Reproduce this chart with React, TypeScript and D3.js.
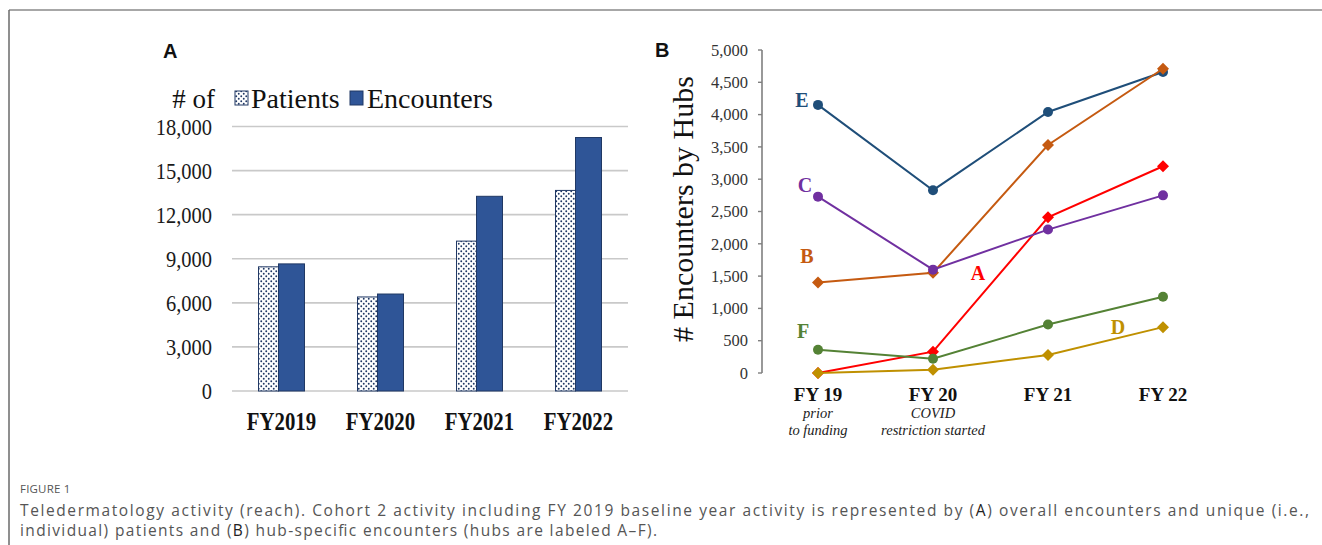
import React from "react";
import * as d3 from "d3";

// Panel A: overall activity per fiscal year
const yearsA = ["FY2019", "FY2020", "FY2021", "FY2022"];
const patients = [8450, 6400, 10200, 13650];
const encounters = [8650, 6600, 13250, 17250];
const ticksA = [0, 3000, 6000, 9000, 12000, 15000, 18000];

// Panel B: encounters per hub
const yearsB = ["FY 19", "FY 20", "FY 21", "FY 22"];
const yearNotes = [["prior", "to funding"], ["COVID", "restriction started"], [], []];
const hubA = [0, 330, 2410, 3200];
const hubB = [1400, 1550, 3530, 4710];
const hubC = [2730, 1600, 2220, 2750];
const hubD = [0, 50, 280, 710];
const hubE = [4150, 2830, 4040, 4660];
const hubF = [360, 220, 750, 1180];
const ticksB = [0, 500, 1000, 1500, 2000, 2500, 3000, 3500, 4000, 4500, 5000];

type Hub = { name: string; values: number[]; color: string; marker: "circle" | "diamond"; labelAt: number; dx: number; dy: number };

// drawing order: later series sit on top
const hubs: Hub[] = [
  { name: "A", values: hubA, color: "#FF0000", marker: "diamond", labelAt: 1, dx: 45, dy: -72 },
  { name: "D", values: hubD, color: "#BF9000", marker: "diamond", labelAt: 3, dx: -45, dy: 7 },
  { name: "F", values: hubF, color: "#548235", marker: "circle", labelAt: 0, dx: -15, dy: -12 },
  { name: "E", values: hubE, color: "#1F4E79", marker: "circle", labelAt: 0, dx: -16, dy: 2 },
  { name: "B", values: hubB, color: "#C55A11", marker: "diamond", labelAt: 0, dx: -11, dy: -20 },
  { name: "C", values: hubC, color: "#7030A0", marker: "circle", labelAt: 0, dx: -13, dy: -5 },
];

const serif = "'Liberation Serif', 'Times New Roman', serif";
const sans = "'Liberation Sans', Arial, sans-serif";
const captionFont = "'Open Sans', 'Noto Sans', sans-serif";

const navy = "#203864";
const encBlue = "#2F5597";

export default function App() {
  // Panel A scales
  const xA = d3.scaleBand<string>().domain(yearsA).range([232, 628]);
  const yA = d3.scaleLinear().domain([0, 18000]).range([391, 126.5]);
  const fmt = d3.format(",");

  // Panel B scales
  const xB = d3.scalePoint<string>().domain(yearsB).range([818, 1163]);
  const yB = d3.scaleLinear().domain([0, 5000]).range([373, 50]);
  const line = d3
    .line<number>()
    .x((_, i) => xB(yearsB[i]) as number)
    .y((v) => yB(v));

  const diamond = (cx: number, cy: number, r: number) =>
    `M${cx},${cy - r}L${cx + r},${cy}L${cx},${cy + r}L${cx - r},${cy}Z`;

  return (
    <div style={{ position: "absolute", left: 0, top: 0 }}>
      <svg width={1322} height={545} style={{ display: "block", background: "#fff" }}>
        <defs>
          <pattern id="dots" width={5} height={5} patternUnits="userSpaceOnUse">
            <rect width={5} height={5} fill="#fff" />
            <circle cx={1.25} cy={1.25} r={0.95} fill={navy} />
            <circle cx={3.75} cy={3.75} r={0.95} fill={navy} />
          </pattern>
        </defs>

        {/* figure frame */}
        <line x1={9} x2={1322} y1={10} y2={10} stroke="#8a8a8a" strokeWidth={1.5} />
        <line x1={9} x2={9} y1={10} y2={545} stroke="#6a6a6a" strokeWidth={1.5} />

        {/* ---------- Panel A ---------- */}
        <text x={163} y={58} fontFamily={sans} fontWeight="bold" fontSize={20} fill="#111">A</text>

        {ticksA.map((t) => (
          <g key={t}>
            <line x1={232} x2={628} y1={yA(t)} y2={yA(t)} stroke="#c9c9c9" strokeWidth={1.6} />
            <text
              transform={`translate(212,${yA(t)}) scale(0.89,1)`}
              dy="0.35em"
              textAnchor="end"
              fontFamily={serif}
              fontSize={23}
              fill="#1a1a1a"
            >
              {fmt(t)}
            </text>
          </g>
        ))}

        {/* legend */}
        <text x={215} y={108} textAnchor="end" fontFamily={serif} fontSize={27} fill="#111"># of</text>
        <rect x={235} y={91} width={13} height={14} fill="url(#dots)" stroke={navy} strokeWidth={1} />
        <text x={251} y={108} fontFamily={serif} fontSize={28} fill="#111">Patients</text>
        <rect x={350} y={91} width={13} height={14} fill={encBlue} stroke={navy} strokeWidth={1} />
        <text x={367} y={108} fontFamily={serif} fontSize={28} fill="#111">Encounters</text>

        {yearsA.map((yr, i) => {
          const c = (xA(yr) as number) + xA.bandwidth() / 2;
          return (
            <g key={yr}>
              <rect
                x={c - 23}
                y={yA(patients[i])}
                width={20}
                height={yA(0) - yA(patients[i])}
                fill="url(#dots)"
                stroke={navy}
                strokeWidth={1}
              />
              <rect
                x={c - 3}
                y={yA(encounters[i])}
                width={26}
                height={yA(0) - yA(encounters[i])}
                fill={encBlue}
                stroke={navy}
                strokeWidth={1}
              />
              <text
                transform={`translate(${c},430) scale(0.8,1)`}
                textAnchor="middle"
                fontFamily={serif}
                fontWeight="bold"
                fontSize={26}
                fill="#111"
              >
                {yr}
              </text>
            </g>
          );
        })}

        {/* ---------- Panel B ---------- */}
        <text x={655} y={57} fontFamily={sans} fontWeight="bold" fontSize={20} fill="#111">B</text>

        <text
          transform="translate(693,209) rotate(-90)"
          textAnchor="middle"
          fontFamily={serif}
          fontSize={30}
          fill="#111"
        >
          # Encounters by Hubs
        </text>

        <line x1={762} x2={762} y1={yB(5000)} y2={yB(0)} stroke="#7f7f7f" strokeWidth={1.6} />
        {ticksB.map((t) => (
          <g key={t}>
            <line x1={758} x2={762} y1={yB(t)} y2={yB(t)} stroke="#7f7f7f" strokeWidth={1.4} />
            <text
              x={748}
              y={yB(t)}
              dy="0.35em"
              textAnchor="end"
              fontFamily={serif}
              fontSize={16.5}
              fill="#333"
            >
              {fmt(t)}
            </text>
          </g>
        ))}

        {yearsB.map((yr, i) => {
          const x = xB(yr) as number;
          return (
            <g key={yr}>
              <text x={x} y={401} textAnchor="middle" fontFamily={serif} fontWeight="bold" fontSize={19} fill="#111">
                {yr}
              </text>
              {yearNotes[i].map((note, j) => (
                <text
                  key={note}
                  x={x}
                  y={418 + j * 17}
                  textAnchor="middle"
                  fontFamily={serif}
                  fontStyle="italic"
                  fontSize={14.5}
                  fill="#222"
                >
                  {note}
                </text>
              ))}
            </g>
          );
        })}

        {hubs.map((h) => (
          <g key={h.name}>
            <path d={line(h.values) as string} fill="none" stroke={h.color} strokeWidth={2} />
            {h.values.map((v, i) => {
              const cx = xB(yearsB[i]) as number;
              const cy = yB(v);
              return h.marker === "circle" ? (
                <circle key={i} cx={cx} cy={cy} r={5} fill={h.color} />
              ) : (
                <path key={i} d={diamond(cx, cy, 6)} fill={h.color} />
              );
            })}
          </g>
        ))}

        {hubs.map((h) => (
          <text
            key={"lbl" + h.name}
            x={(xB(yearsB[h.labelAt]) as number) + h.dx}
            y={yB(h.values[h.labelAt]) + h.dy}
            textAnchor="middle"
            fontFamily={serif}
            fontWeight="bold"
            fontSize={20}
            fill={h.color}
          >
            {h.name}
          </text>
        ))}

        {/* ---------- Caption ---------- */}
        <text x={20} y={493} fontFamily={captionFont} fontSize={11.5} fill="#555" letterSpacing={0.2}>
          FIGURE 1
        </text>
        <text
          x={20}
          y={516}
          fontFamily={captionFont}
          fontSize={15.5}
          fill="#555"
          textLength={1289}
          lengthAdjust="spacing"
        >
          Teledermatology activity (reach). Cohort 2 activity including FY 2019 baseline year activity is represented by (
          <tspan fill="#222">A</tspan>) overall encounters and unique (i.e.,
        </text>
        <text
          x={20}
          y={536}
          fontFamily={captionFont}
          fontSize={15.5}
          fill="#555"
          textLength={637}
          lengthAdjust="spacing"
        >
          individual) patients and (<tspan fill="#222">B</tspan>) hub-specific encounters (hubs are labeled A–F).
        </text>
      </svg>
    </div>
  );
}
